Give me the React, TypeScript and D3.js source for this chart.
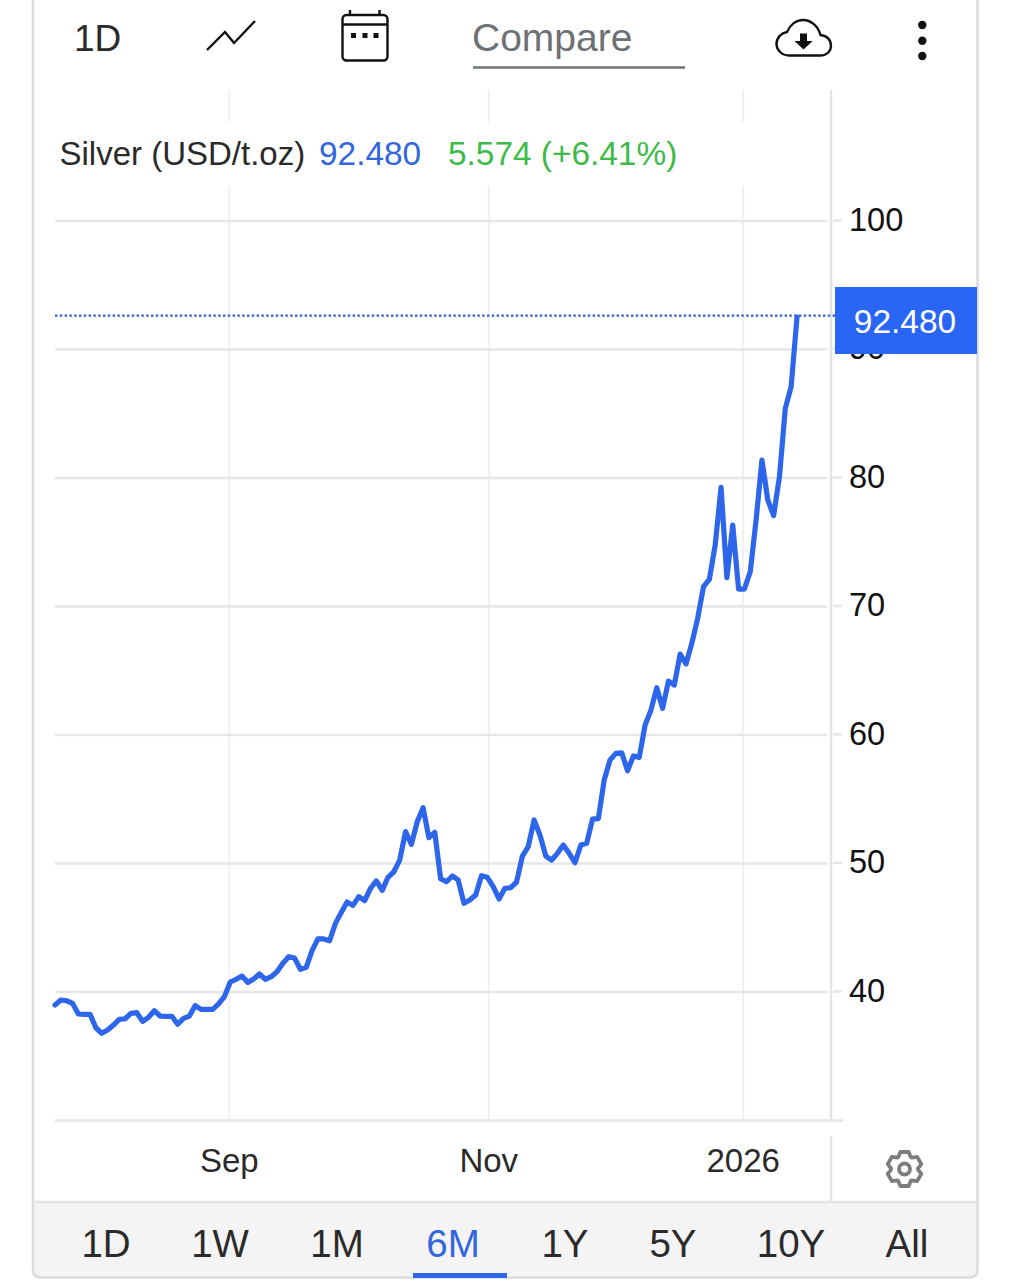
import * as d3 from 'd3';
import { useEffect, useRef } from 'react';

// one close per trading day
const silverCloses = [
  38.95, 39.34, 39.28, 39.08, 38.25, 38.22, 38.22, 37.18, 36.75, 37.0, 37.39, 37.83, 37.88, 38.3, 38.35, 37.68,
  37.99, 38.5, 38.09, 38.07, 38.07, 37.45, 37.91, 38.09, 38.9, 38.61, 38.61, 38.61, 39.03, 39.6, 40.74, 40.95,
  41.2, 40.71, 40.97, 41.36, 40.95, 41.15, 41.54, 42.19, 42.71, 42.6, 41.73, 41.88, 43.18, 44.09, 44.09, 43.95,
  45.3, 46.16, 46.96, 46.7, 47.38, 47.07, 48.03, 48.6, 47.87, 48.89, 49.32, 50.23, 52.44, 51.45, 53.21, 54.3,
  51.97, 52.39, 48.78, 48.54, 48.99, 48.68, 46.86, 47.12, 47.51, 49.01, 48.89, 48.16, 47.2, 48.03, 48.08, 48.52,
  50.54, 51.27, 53.35, 52.18, 50.54, 50.23, 50.75, 51.4, 50.75, 50.02, 51.4, 51.53, 53.42, 53.45, 56.46, 58.02,
  58.53, 58.58, 57.18, 58.33, 58.22, 60.74, 61.9, 63.64, 62.04, 64.16, 63.85, 66.26, 65.49, 67.1, 69.04, 71.5,
  72.08, 74.75, 79.24, 72.2, 76.3, 71.32, 71.32, 72.67, 76.69, 81.36, 78.25, 77.03, 80.06, 85.38, 87.07, 92.48,
];
const priceTicks = [40, 50, 60, 70, 80, 90, 100];
const monthIndexes = [29.75, 74.15, 117.7];
const monthLabels = ['Sep', 'Nov', '2026'];
const rangeTabs = ['1D', '1W', '1M', '6M', '1Y', '5Y', '10Y', 'All'];
const activeTab = '6M';
const lastPrice = 92.48;

const FONT = '"Liberation Sans", Arial, sans-serif';
const BLUE = '#2d66ea';

function gearPath(cx: number, cy: number) {
  const pts: [number, number][] = [];
  for (let i = 0; i < 6; i++) {
    const a = (i * Math.PI) / 3 - Math.PI / 2;
    [[-0.48, 13.5], [-0.24, 17.5], [0.24, 17.5], [0.48, 13.5]].forEach(([da, r]) => {
      pts.push([cx + r * Math.cos(a + da), cy + r * Math.sin(a + da)]);
    });
  }
  return 'M' + pts.map(p => p.join(',')).join('L') + 'Z';
}

function App() {
  const chartRef = useRef<SVGGElement>(null);

  useEffect(() => {
    const g = d3.select(chartRef.current);
    g.selectAll('*').remove();

    const x = d3.scaleLinear().domain([0, silverCloses.length - 1]).range([55, 797]);
    const y = d3.scaleLinear().domain([40, 100]).range([991.5, 220.5]);

    // vertical grid
    const vGrid = g.append('g')
      .attr('transform', 'translate(0, 90)')
      .call(d3.axisBottom(x).tickValues(monthIndexes).tickSize(1030).tickFormat(() => ''));
    vGrid.select('.domain').remove();
    vGrid.selectAll('line').attr('stroke', '#f0f0f1').attr('stroke-width', 2);

    // legend sits on a white strip that cuts the grid
    g.append('rect').attr('x', 55).attr('y', 122).attr('width', 770).attr('height', 64).attr('fill', '#fff');

    // horizontal grid
    const hGrid = g.append('g')
      .attr('transform', 'translate(827, 0)')
      .call(d3.axisLeft(y).tickValues(priceTicks).tickSize(772).tickFormat(() => ''));
    hGrid.select('.domain').remove();
    hGrid.selectAll('line').attr('stroke', '#e6e6e6').attr('stroke-width', 2.5);

    // axis frame
    g.append('line').attr('x1', 831).attr('x2', 831).attr('y1', 90).attr('y2', 1121)
      .attr('stroke', '#e4e4e4').attr('stroke-width', 2.5);
    g.append('line').attr('x1', 831).attr('x2', 831).attr('y1', 1136).attr('y2', 1202)
      .attr('stroke', '#e4e4e4').attr('stroke-width', 2.5);
    g.append('line').attr('x1', 55).attr('x2', 843).attr('y1', 1120.5).attr('y2', 1120.5)
      .attr('stroke', '#e6e6e6').attr('stroke-width', 2.5);

    // price axis
    const yAxis = g.append('g')
      .attr('transform', 'translate(833, -0.5)')
      .call(d3.axisRight(y).tickValues(priceTicks).tickSize(9).tickPadding(7));
    yAxis.select('.domain').remove();
    yAxis.selectAll('line').attr('stroke', '#e6e6e6').attr('stroke-width', 2.5);
    yAxis.selectAll('text').attr('font-family', FONT).attr('font-size', 32.6).attr('fill', '#111');

    // month axis
    const xAxis = g.append('g')
      .attr('transform', 'translate(0, 1120.5)')
      .call(d3.axisBottom(x).tickValues(monthIndexes).tickSize(0).tickPadding(28)
        .tickFormat((_, i) => monthLabels[i]));
    xAxis.select('.domain').remove();
    xAxis.selectAll('text').attr('font-family', FONT).attr('font-size', 33).attr('fill', '#2a2a2a');

    // last price marker
    g.append('line').attr('x1', 55).attr('x2', 835).attr('y1', y(lastPrice) - 1.5).attr('y2', y(lastPrice) - 1.5)
      .attr('stroke', '#2b5fd2').attr('stroke-width', 2.4).attr('stroke-dasharray', '2.4 2.4');

    const line = d3.line<number>()
      .x((_, i) => x(i))
      .y(d => y(d))
      .curve(d3.curveLinear);

    g.append('path')
      .datum(silverCloses)
      .attr('fill', 'none')
      .attr('stroke', BLUE)
      .attr('stroke-width', 5.2)
      .attr('stroke-linejoin', 'round')
      .attr('stroke-linecap', 'round')
      .attr('d', line);

    g.append('rect').attr('x', 835).attr('y', 287).attr('width', 142).attr('height', 67).attr('fill', '#2a66f5');
    g.append('text').attr('x', 905).attr('y', 333).attr('text-anchor', 'middle')
      .attr('font-family', FONT).attr('font-size', 33.5).attr('fill', '#fff').text(lastPrice.toFixed(3));
  }, []);

  const tabCenters = [106, 220, 337, 453, 565, 673, 791, 907];

  return (
    <svg width={1011} height={1280} style={{ position: 'absolute', left: 0, top: 0, background: '#fff' }} fontFamily={FONT}>
      {/* card */}
      <path d="M33 1202 H977 V1270 Q977 1277.5 969 1277.5 H41 Q33 1277.5 33 1270 Z" fill="#f4f4f4" />
      <path d="M33 0 V1270 Q33 1277.5 41 1277.5 H969 Q977.5 1277.5 977.5 1270 V0" fill="none" stroke="#dcdcdc" strokeWidth={2.5} />
      <line x1={33} x2={977} y1={1202} y2={1202} stroke="#e4e4e4" strokeWidth={2.5} />

      {/* toolbar */}
      <text x={74} y={51} fontSize={37} fill="#2a2a2a">1D</text>
      <path d="M207 50 L225 32 L234 43 L255 21" fill="none" stroke="#111" strokeWidth={2.4} />
      <rect x={342.5} y={15} width={45} height={45.5} rx={4} fill="none" stroke="#111" strokeWidth={2.4} />
      <path d="M342.5 24.5 H387.5 M350 10 V15 M379.5 10 V15" fill="none" stroke="#111" strokeWidth={2.4} />
      <path d="M351 33 h5 v5 h-5 z M362.5 33 h5 v5 h-5 z M373.5 33 h5 v5 h-5 z" fill="#111" />
      <text x={472} y={51} fontSize={39} fill="#6d7174">Compare</text>
      <line x1={473} x2={685} y1={67.5} y2={67.5} stroke="#6d7574" strokeWidth={2.5} />
      <path
        d="M789 55.5 H820 C828 55.5 831 50 831 46 C831 40 827 35.5 820.5 35 C818 26 811 20 803 20 C796 20 790 25 787 32 C781 33 776.5 38 776.5 44 C776.5 50 782 55.5 789 55.5 Z"
        fill="#fff" stroke="#111" strokeWidth={2.4}
      />
      <path d="M800 33.5 H807 V41 H812.7 L803.5 49.5 L794.5 41 H800 Z" fill="#111" />
      <circle cx={922.3} cy={25} r={4.2} fill="#111" />
      <circle cx={922.3} cy={40.7} r={4.2} fill="#111" />
      <circle cx={922.3} cy={56} r={4.2} fill="#111" />

      <g ref={chartRef} />

      {/* legend */}
      <text x={59.5} y={165} fontSize={33} fill="#2a2a2a">Silver (USD/t.oz)</text>
      <text x={319} y={165} fontSize={33.4} fill="#3366dd">92.480</text>
      <text x={448} y={165} fontSize={33.4} fill="#3dbb47">5.574 (+6.41%)</text>

      {/* settings */}
      <path d={gearPath(904.5, 1169)} fill="none" stroke="#7d7d7d" strokeWidth={3.8} strokeLinejoin="round" />
      <circle cx={904.5} cy={1169} r={5.5} fill="none" stroke="#7d7d7d" strokeWidth={3.8} />

      {/* range tabs */}
      {rangeTabs.map((t, i) => (
        <text key={t} x={tabCenters[i]} y={1257} fontSize={38.5} textAnchor="middle" fill={t === activeTab ? '#3366dd' : '#2a2a2a'}>{t}</text>
      ))}
      <rect x={413} y={1273} width={94} height={5} fill={BLUE} />
    </svg>
  );
}

export default App;
